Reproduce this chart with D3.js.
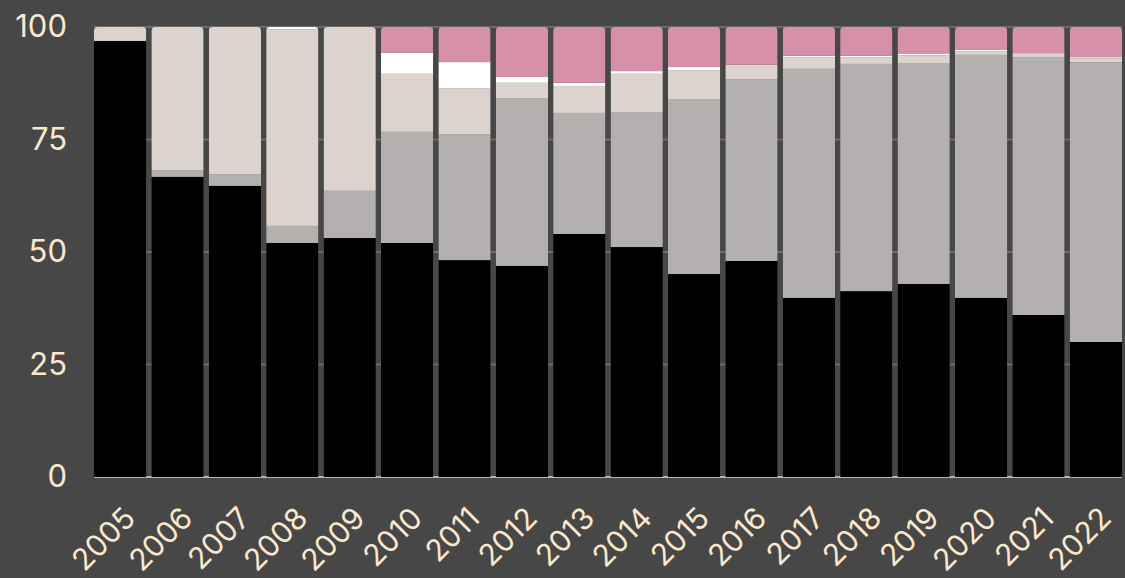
<!DOCTYPE html>
<html>
<head>
<meta charset="utf-8">
<script src="https://cdn.jsdelivr.net/npm/d3@7"></script>
<style>
  html, body { margin: 0; padding: 0; background: #474747; }
  svg text { font-family: Inter, "Noto Sans", sans-serif; fill: #fbe8cc; }
</style>
</head>
<body>
<div id="chart"></div>
<script>
const years = ['2005','2006','2007','2008','2009','2010','2011','2012','2013','2014','2015','2016','2017','2018','2019','2020','2021','2022'];
const black = [96.9, 66.7, 64.7, 52.0, 53.1, 52.0, 48.2, 46.9, 54.0, 51.1, 45.1, 48.0, 39.8, 41.3, 42.9, 39.8, 36.0, 30.0];
const gray  = [0, 1.5, 2.6, 3.8, 10.5, 24.7, 28.0, 37.3, 26.9, 30.0, 38.9, 40.4, 50.9, 50.5, 49.1, 54.0, 57.3, 62.2];
const beige = [3.1, 31.8, 32.7, 43.7, 36.4, 12.9, 10.2, 3.4, 6.0, 8.5, 6.4, 3.2, 2.6, 1.5, 1.7, 0.8, 0.9, 0.8];
const white = [0, 0, 0, 0.5, 0, 4.7, 5.8, 1.3, 0.7, 0.6, 0.7, 0, 0.3, 0.3, 0.3, 0.3, 0, 0.3];
const pink  = [0, 0, 0, 0, 0, 5.7, 7.8, 11.1, 12.4, 9.8, 8.9, 8.4, 6.4, 6.4, 6.0, 5.1, 5.8, 6.7];
const yTicks = [0, 25, 50, 75, 100];

const keys = ['black', 'gray', 'beige', 'white', 'pink'];
const colors = {black: '#000000', gray: '#b3b0af', beige: '#ddd3ce', white: '#ffffff', pink: '#d690aa'};
const rows = years.map((y, i) => ({year: y, black: black[i], gray: gray[i], beige: beige[i], white: white[i], pink: pink[i]}));

const W = 1125, H = 578;
const margin = {top: 27, right: 3, bottom: 101, left: 94};
const width = W - margin.left - margin.right;
const height = H - margin.top - margin.bottom;

const svg = d3.select('#chart').append('svg')
  .attr('width', W).attr('height', H)
  .style('display', 'block');

const g = svg.append('g').attr('transform', `translate(${margin.left},${margin.top})`);

const x = d3.scaleBand().domain(years).range([0, width]).paddingInner(0.09).paddingOuter(0.0);
const y = d3.scaleLinear().domain([0, 100]).range([height, 0]);

// gridlines
g.selectAll('.grid').data(yTicks).enter().append('line')
  .attr('x1', 0).attr('x2', width)
  .attr('y1', d => y(d)).attr('y2', d => y(d))
  .attr('stroke', d => d === 0 ? '#bdb3a0' : '#6c6b66')
  .attr('stroke-width', 2);

// clip paths for rounded tops
const defs = svg.append('defs');
years.forEach((yr, i) => {
  defs.append('clipPath').attr('id', 'clip' + i)
    .append('rect')
    .attr('x', x(yr)).attr('y', y(100))
    .attr('width', x.bandwidth()).attr('height', height + 10)
    .attr('rx', 4).attr('ry', 4);
});

const stacked = d3.stack().keys(keys)(rows);

const cols = g.selectAll('.col').data(years).enter().append('g')
  .attr('clip-path', (d, i) => `url(#clip${i})`);

stacked.forEach(layer => {
  layer.forEach((seg, i) => {
    if (seg[1] - seg[0] <= 0) return;
    d3.select(cols.nodes()[i]).append('rect')
      .attr('x', x(years[i]))
      .attr('y', y(seg[1]))
      .attr('width', x.bandwidth())
      .attr('height', y(seg[0]) - y(seg[1]))
      .attr('fill', colors[layer.key]);
  });
});

// y axis
const yAxis = g.append('g').call(d3.axisLeft(y).tickValues(yTicks).tickSize(0).tickPadding(27));
yAxis.select('.domain').remove();
yAxis.selectAll('text').attr('font-size', 31).style('font-family', 'Inter, sans-serif').attr('fill', '#fbe8cc');

// x axis
const xAxis = g.append('g').attr('transform', `translate(0,${height})`)
  .call(d3.axisBottom(x).tickSize(0).tickPadding(0));
xAxis.select('.domain').remove();
xAxis.selectAll('text')
  .attr('font-size', 30)
  .attr('fill', '#fbe8cc')
  .attr('text-anchor', 'end')
  .attr('y', 0)
  .attr('dy', 0)
  .attr('transform', 'translate(17,43) rotate(-45)');
</script>
</body>
</html>
